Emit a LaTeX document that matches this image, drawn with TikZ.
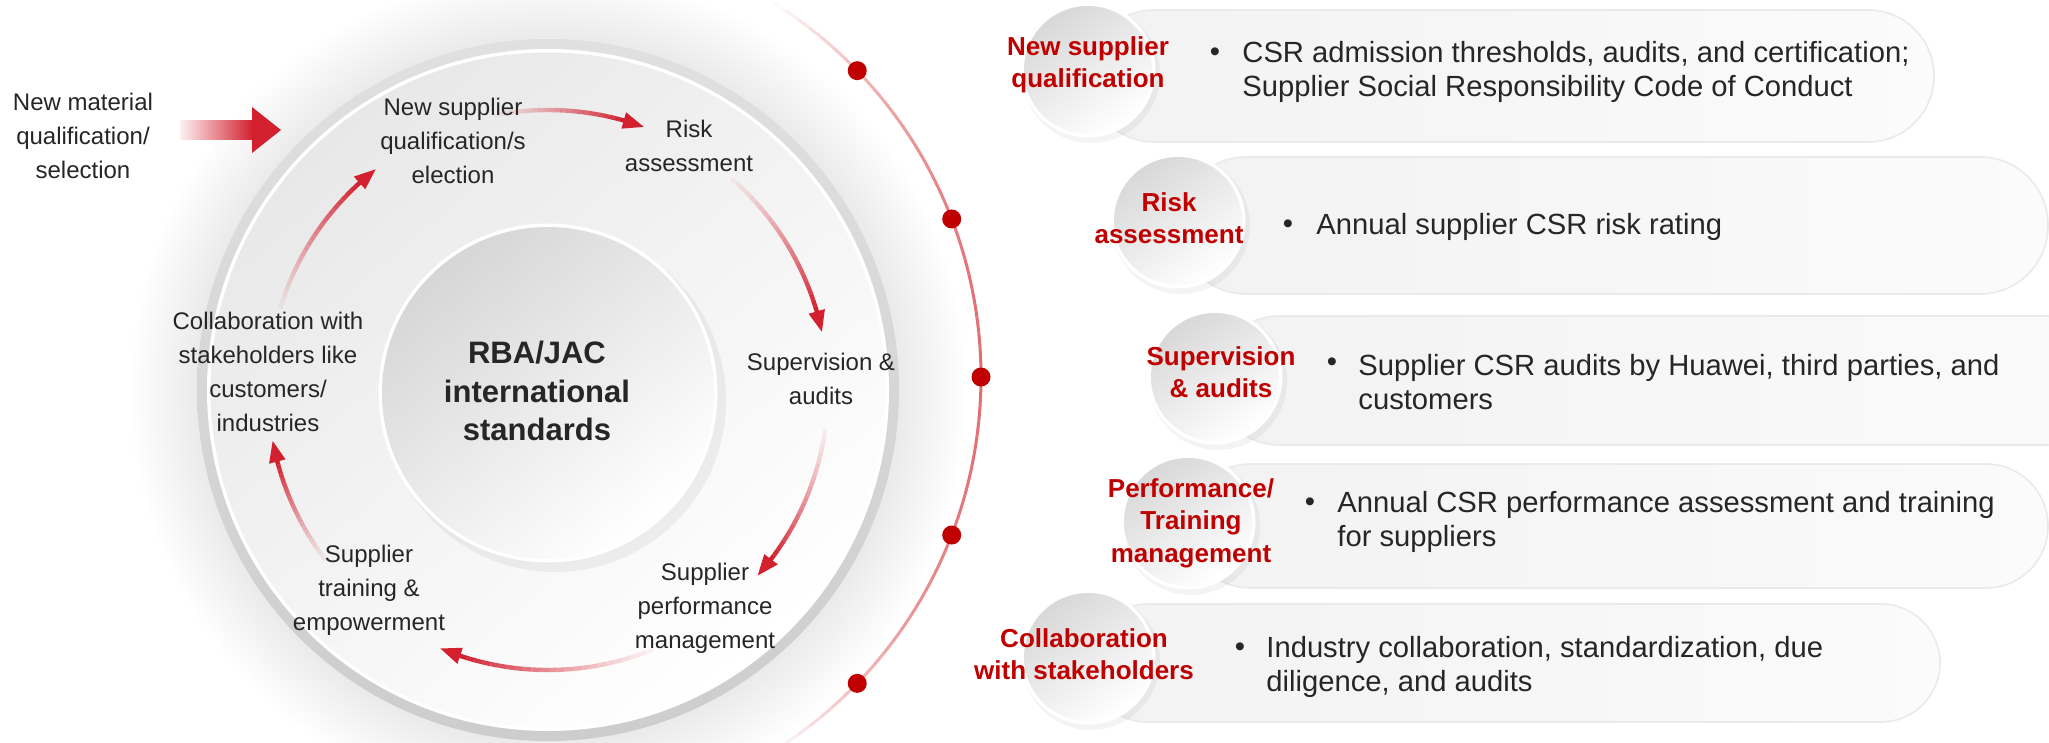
\documentclass[tikz,border=0pt]{standalone}
\usepackage{fontspec}
\setmainfont{Liberation Sans}
\usetikzlibrary{arrows.meta}
\definecolor{txt}{HTML}{262626}
\definecolor{lab}{HTML}{C00000}
\definecolor{arr}{HTML}{D2202E}
\definecolor{dotc}{HTML}{C00000}
\definecolor{arcc}{HTML}{DF5F63}
\definecolor{haloc}{HTML}{EAEAEA}
\definecolor{ringtop}{HTML}{E0E0E0}
\definecolor{ringbot}{HTML}{CDCDCD}
\definecolor{diskc}{HTML}{E8E8E8}
\definecolor{innc}{HTML}{D6D6D6}
\definecolor{glassc}{HTML}{D8D8D8}
\definecolor{pillL}{HTML}{F2F2F2}
\definecolor{pillR}{HTML}{FBFBFB}
\definecolor{pilledge}{HTML}{EAEAEA}
\pgfdeclareradialshading{halo}{\pgfpoint{0bp}{0bp}}{color(0bp)=(haloc); color(20.8bp)=(haloc); color(25bp)=(white); color(50bp)=(white)}

\newcommand\gradarc[2]{%
  \pgfmathsetmacro\gaEnd{#2+4}%
  \foreach \gi in {0,...,23}{%
    \pgfmathsetmacro\gaA{#1+(\gaEnd-(#1))*\gi/24}%
    \pgfmathsetmacro\gaB{#1+(\gaEnd-(#1))*(\gi+1)/24}%
    \pgfmathsetmacro\gaO{0.04+0.96*((\gi+1)/24)^1.3}%
    \draw[cyc, draw opacity=\gaO] (\gaA:280) arc[start angle=\gaA, end angle=\gaB, radius=280];
  }%
  \pgfmathsetmacro\gaH{#2+4.3}%
  \fill[arr] (#2:280) -- (\gaH:288.5) -- (\gaH:271.5) -- cycle;
}

\begin{document}
\begin{tikzpicture}[x=0.5pt,y=-0.5pt,
  cyc/.style={draw=arr, line width=2.2pt, line cap=butt},
  outarc/.style={draw=arcc, line width=1.5pt, line cap=butt},
  lbl/.style={font=\fontsize{12pt}{17pt}\selectfont, text=txt, align=center, inner sep=0pt},
  ctr/.style={font=\bfseries\fontsize{15.5pt}{19.25pt}\selectfont, text=txt, align=center, inner sep=0pt},
  redlbl/.style={font=\bfseries\fontsize{13pt}{16.2pt}\selectfont, text=lab, align=center, inner sep=0pt},
  blt/.style={font=\fontsize{14.6pt}{17.3pt}\selectfont, text=txt, inner sep=0pt},
  btxt/.style={font=\fontsize{14.6pt}{17.3pt}\selectfont, text=txt, align=left, inner sep=0pt, anchor=west},
  pill/.style={left color=pillL, right color=pillR, draw=pilledge, line width=0.8pt},
  glassshadow/.style={fill=black, opacity=0.045},
  glass/.style={top color=glassc, bottom color=white, shading angle=35},
  dot/.style={fill=dotc}
]
\useasboundingbox (0,0) rectangle (2049,743);
\fill[white] (0,0) rectangle (2049,743);

% halo and big disk
\shade[shading=halo] (548,390) circle (420);
\shade[top color=ringtop, bottom color=ringbot] (548,390) circle (351);
\fill[white] (548,390) circle (341);
\shade[top color=diskc, bottom color=white, shading angle=40] (548,390) circle (337.5);

% inner circle
\fill[black, opacity=0.05] (555,401) circle (171);
\fill[white] (548,393) circle (169.5);
\shade[top color=innc, bottom color=white, shading angle=40] (548,393) circle (166);
\node[ctr] (rba) at (537,391) {RBA/JAC\\international\\standards};

% cycle arrows
\begin{scope}[shift={(548,390)}, yscale=-1]
  \gradarc{101}{70}
  \gradarc{49}{12}
  \gradarc{-8}{-41.5}
  \gradarc{-68}{-112.6}
  \gradarc{217.5}{190.5}
  \gradarc{163}{128}
\end{scope}

% cycle labels
\node[lbl] (l1) at (453,141) {New supplier\\qualification/s\\election};
\node[lbl] (l2) at (689,146) {Risk\\assessment};
\node[lbl] (l3) at (821,379) {Supervision \&\\audits};
\node[lbl] (l4) at (705,608) {Supplier\\performance\\management};
\node[lbl] (l5) at (369,590) {Supplier\\training \&\\empowerment};
\node[lbl] (l6) at (268,372) {Collaboration with\\stakeholders like\\customers/\\industries};

% input
\node[lbl] (newmat) at (83,136) {New material\\qualification/\\selection};
\shade[left color=arr!6, right color=arr] (180,121) rectangle (253,140);
\fill[arr] (252,107) -- (281,130) -- (252,153) -- cycle;

% outer timeline arc
\begin{scope}[shift={(540,377)}, yscale=-1]
  \foreach \gi in {0,...,59}{%
    \pgfmathsetmacro\gaA{58-116*\gi/60}%
    \pgfmathsetmacro\gaB{58-116*(\gi+1)/60}%
    \pgfmathsetmacro\gaM{abs((\gaA+\gaB)/2)/58}%
    \pgfmathsetmacro\gaO{max(0,1-(\gaM)^2.2)*0.9}%
    \draw[outarc, draw opacity=\gaO] (\gaA:441) arc[start angle=\gaA, end angle=\gaB, radius=441];
  }
  \fill[dot] (44:441) circle (9.5);
  \fill[dot] (21:441) circle (9.5);
  \fill[dot] (0:441) circle (9.5);
  \fill[dot] (-21:441) circle (9.5);
  \fill[dot] (-44:441) circle (9.5);
\end{scope}

% right rows: pills
\path[pill, rounded corners=33pt] (1088,10) rectangle (1934,142);
\path[pill, rounded corners=34pt] (1178,157) rectangle (2048,294);
\path[pill, rounded corners=32pt] (1215,316) rectangle (2110,445);
\path[pill, rounded corners=31pt] (1188,464) rectangle (2048,588);
\path[pill, rounded corners=29.5pt] (1088,604) rectangle (1940,722);

% glass circles
\foreach \cx/\cy in {1088/70, 1178/221, 1215/377, 1188/522, 1088/657}{%
  \fill[glassshadow] (\cx+3,\cy+4) circle (69);
  \fill[white] (\cx,\cy) circle (67.5);
  \shade[glass] (\cx,\cy) circle (64);
}

% red labels
\node[redlbl] (r1) at (1088,65) {New supplier\\qualification};
\node[redlbl] (r2) at (1169,218) {Risk\\assessment};
\node[redlbl] (r3) at (1221,372) {Supervision\\\& audits};
\node[redlbl] (r4) at (1191,523) {Performance/\\Training\\management};
\node[redlbl] (r5) at (1084,654) {Collaboration\\with stakeholders};

% bullets and texts
\node[blt] (b1) at (1215,55) {•};
\node[btxt] (t1) at (1242,72) {CSR admission thresholds, audits, and certification;\\Supplier Social Responsibility Code of Conduct};
\node[blt] (b2) at (1288,227) {•};
\node[btxt] (t2) at (1316,227) {Annual supplier CSR risk rating};
\node[blt] (b3) at (1332,365) {•};
\node[btxt] (t3) at (1358,382) {Supplier CSR audits by Huawei, third parties, and\\customers};
\node[blt] (b4) at (1310,505) {•};
\node[btxt] (t4) at (1337,522) {Annual CSR performance assessment and training\\for suppliers};
\node[blt] (b5) at (1240,650) {•};
\node[btxt] (t5) at (1266,667) {Industry collaboration, standardization, due\\diligence, and audits};
\end{tikzpicture}
\end{document}
